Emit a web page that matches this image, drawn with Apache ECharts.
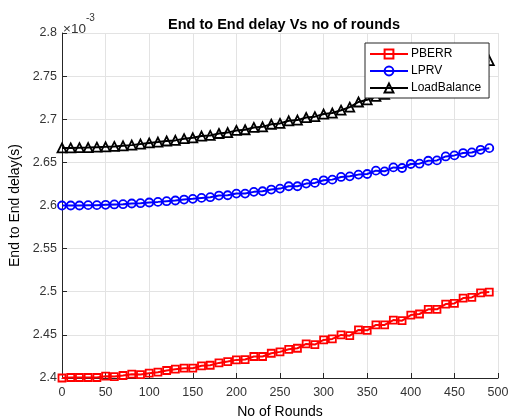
<!DOCTYPE html>
<html>
<head>
<meta charset="utf-8">
<script src="https://cdn.jsdelivr.net/npm/echarts@6/dist/echarts.min.js"></script>
<style>html,body{margin:0;padding:0;background:#fff;}#chart{width:510px;height:417px;}</style>
</head>
<body>
<div id="chart"></div>
<script>
// Values in units of 1e-3 s
var rounds = [0,10,20,30,40,50,60,70,80,90,100,110,120,130,140,150,160,170,180,190,200,210,220,230,240,250,260,270,280,290,300,310,320,330,340,350,360,370,380,390,400,410,420,430,440,450,460,470,480,490];
var pberr = [2.4000,2.4006,2.4006,2.4006,2.4006,2.4021,2.4017,2.4029,2.4044,2.4040,2.4056,2.4067,2.4087,2.4102,2.4114,2.4114,2.4141,2.4148,2.4175,2.4191,2.4210,2.4214,2.4249,2.4249,2.4287,2.4303,2.4333,2.4345,2.4395,2.4387,2.4441,2.4453,2.4499,2.4491,2.4557,2.4553,2.4615,2.4615,2.4672,2.4665,2.4730,2.4742,2.4796,2.4796,2.4857,2.4865,2.4927,2.4934,2.4988,2.4996];
var lprv = [2.6000,2.6000,2.6000,2.6004,2.6004,2.6008,2.6012,2.6015,2.6023,2.6027,2.6035,2.6042,2.6050,2.6058,2.6069,2.6077,2.6088,2.6096,2.6115,2.6119,2.6138,2.6138,2.6158,2.6165,2.6185,2.6196,2.6223,2.6223,2.6254,2.6262,2.6292,2.6300,2.6331,2.6338,2.6358,2.6365,2.6404,2.6396,2.6442,2.6435,2.6481,2.6485,2.6519,2.6523,2.6569,2.6581,2.6608,2.6615,2.6646,2.6665];
var loadBalance = [2.6667,2.6667,2.6670,2.6672,2.6676,2.6680,2.6685,2.6692,2.6700,2.6712,2.6725,2.6735,2.6748,2.6755,2.6775,2.6785,2.6805,2.6812,2.6835,2.6845,2.6870,2.6878,2.6905,2.6912,2.6942,2.6952,2.6982,2.6990,2.7020,2.7030,2.7060,2.7072,2.7105,2.7140,2.7200,2.7225,2.7265,2.7290,2.7330,2.7360,2.7400,2.7430,2.7470,2.7500,2.7540,2.7570,2.7610,2.7640,2.7650,2.7680];
var seriesNames = ['PBERR','LPRV','LoadBalance'];
var xTicks = {min:0, max:500, step:50};
var yTicks = {min:2.4, max:2.8, step:0.05};

function pairs(vals){ return rounds.map(function(r,i){ return [r, vals[i]]; }); }

var chart = echarts.init(document.getElementById('chart'), null, {renderer:'canvas'});
var font = 'Helvetica, Arial, "Liberation Sans", sans-serif';
var axisCol = '#262626';
function mk(name, vals, color, symbol, size){
  return {
    name: name, type: 'line', data: pairs(vals),
    symbol: symbol, symbolSize: size, showSymbol: true,
    lineStyle: {color: color, width: 2},
    itemStyle: {color: 'rgba(255,255,255,0)', borderColor: color, borderWidth: 1.8},
    emphasis: {disabled: true}, animation: false, z: 3
  };
}
chart.setOption({
  animation: false,
  backgroundColor: '#fff',
  title: {
    text: 'End to End delay Vs no of rounds', left: 279, top: 12, textAlign: 'center',
    textStyle: {fontFamily: font, fontSize: 14.5, fontWeight: 'bold', color: '#000'}
  },
  grid: {left: 62, right: 12, top: 33, bottom: 39, containLabel: false, outerBoundsMode: 'none'},
  legend: {
    orient: 'vertical', left: 365, top: 43, width: 122,
    padding: [5, 8, 4, 4], itemGap: 5, itemWidth: 38, itemHeight: 11,
    backgroundColor: '#fff', borderColor: axisCol, borderWidth: 1,
    textStyle: {fontFamily: font, fontSize: 12, color: '#000', padding: [0,0,0,-2]},
    data: seriesNames
  },
  xAxis: {
    type: 'value', min: xTicks.min, max: xTicks.max, interval: xTicks.step,
    name: 'No of Rounds', nameLocation: 'middle', nameGap: 27,
    nameTextStyle: {fontFamily: font, fontSize: 14, color: '#000'},
    axisLine: {lineStyle: {color: axisCol, width: 1}},
    axisTick: {inside: true, length: 5, lineStyle: {color: axisCol}},
    axisLabel: {fontFamily: font, fontSize: 12.5, color: '#333', margin: 8},
    splitLine: {show: true, lineStyle: {color: '#e3e3e3', width: 1}}
  },
  yAxis: {
    type: 'value', min: yTicks.min, max: yTicks.max, interval: yTicks.step,
    name: 'End to End delay(s)', nameLocation: 'middle', nameGap: 36, nameRotate: 90,
    nameTextStyle: {fontFamily: font, fontSize: 14, color: '#000'},
    axisLine: {show: true, lineStyle: {color: axisCol, width: 1}},
    axisTick: {show: true, inside: true, length: 5, lineStyle: {color: axisCol}},
    axisLabel: {fontFamily: font, fontSize: 12.5, color: '#333', margin: 5,
      formatter: function(v){ return String(parseFloat(v.toFixed(2))); }},
    splitLine: {show: true, lineStyle: {color: '#e3e3e3', width: 1}}
  },
  graphic: [{
    type: 'text', left: 63, top: 13,
    style: {
      text: '{a|\u00d710}{b|-3}', fill: '#333',
      rich: {
        a: {fontFamily: font, fontSize: 13.5, fill: '#333', verticalAlign: 'bottom', padding: [9,0,0,0]},
        b: {fontFamily: font, fontSize: 10, fill: '#333', verticalAlign: 'top'}
      }
    }
  }],
  series: [
    mk('PBERR', pberr, '#ff0000', 'rect', 7),
    mk('LPRV', lprv, '#0000ff', 'circle', 8),
    mk('LoadBalance', loadBalance, '#000000', 'triangle', 9)
  ]
});
</script>
</body>
</html>
